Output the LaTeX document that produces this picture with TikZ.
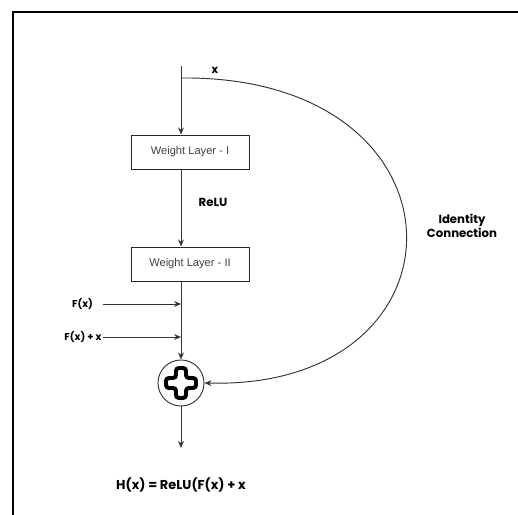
\documentclass[tikz,border=0pt]{standalone}
\usepackage{fontspec}
\setmainfont{Liberation Sans}
\newfontfamily\comicfont{Poppins}
\usetikzlibrary{arrows.meta,positioning}

\begin{document}
\begin{tikzpicture}[x=0.03cm, y=-0.03cm, >={Stealth[length=6pt,width=5pt]},
        wlayer/.style={draw=black!85, line width=0.8pt, minimum width=3.54cm, minimum height=1.02cm,
            font=\fontsize{9.5}{11}\selectfont, text=black!75},
        wire/.style={draw=black!80, line width=0.8pt},
        lbl/.style={font=\comicfont\bfseries\fontsize{8.5}{10}\selectfont}]
        \useasboundingbox (0,0) rectangle (518,515);
        \draw[line width=1pt] (13,515)--(13,12)--(518,12);

        % main path
        \coordinate (top) at (181,66);
        \coordinate (split) at (181,78);
        \node[wlayer] (wl1) at (190,152) {Weight Layer - I};
        \node[wlayer] (wl2) at (190,264) {Weight Layer - II};
        \node[circle, draw=black!80, line width=0.8pt, minimum size=1.38cm, inner sep=0] (add) at (181,383) {};
        \draw[line width=3.4pt, fill=white, rounded corners=2.5pt, shift={(add.center)}]
            (-5,-15)--(5,-15)--(5,-5)--(15,-5)--(15,5)--(5,5)--(5,15)--(-5,15)--(-5,5)--(-15,5)--(-15,-5)--(-5,-5)--cycle;
        \coordinate (out) at (181,448);

        \draw[wire, ->] (top) -- (top |- wl1.north);
        \draw[wire, ->] (top |- wl1.south) -- (top |- wl2.north);
        \draw[wire, ->] (top |- wl2.south) -- (add.north);
        \draw[wire, ->] (add.south) -- (out);

        % side inputs
        \node[lbl, anchor=east] (fxlbl) at (97,304) {F(x)};
        \node[lbl, anchor=east, inner xsep=1pt] (fxxlbl) at (103,337) {F(x)~+~x};
        \coordinate (fxin) at (103,304);
        \draw[wire, ->] (fxin) -- (fxin -| top);
        \draw[wire, ->] (fxxlbl.east) -- (fxxlbl.east -| top);

        % identity connection
        \draw[wire, ->] (split) .. controls (477,75) and (477,390) .. (add.east);
        \node[lbl, font=\comicfont\bfseries\fontsize{9.5}{11}\selectfont] (xlbl) at (215,70) {x};
        \node[lbl, font=\comicfont\bfseries\fontsize{10}{12.5}\selectfont, align=center] (idlbl) at (462,226) {Identity\\Connection};
        \node[lbl, font=\comicfont\bfseries\fontsize{10}{12}\selectfont] (relulbl) at (213,202) {ReLU};

        \node[lbl, font=\comicfont\bfseries\fontsize{11}{13}\selectfont] (hx) at (181,485) {H(x) = ReLU(F(x) + x};
\end{tikzpicture}
\end{document}
